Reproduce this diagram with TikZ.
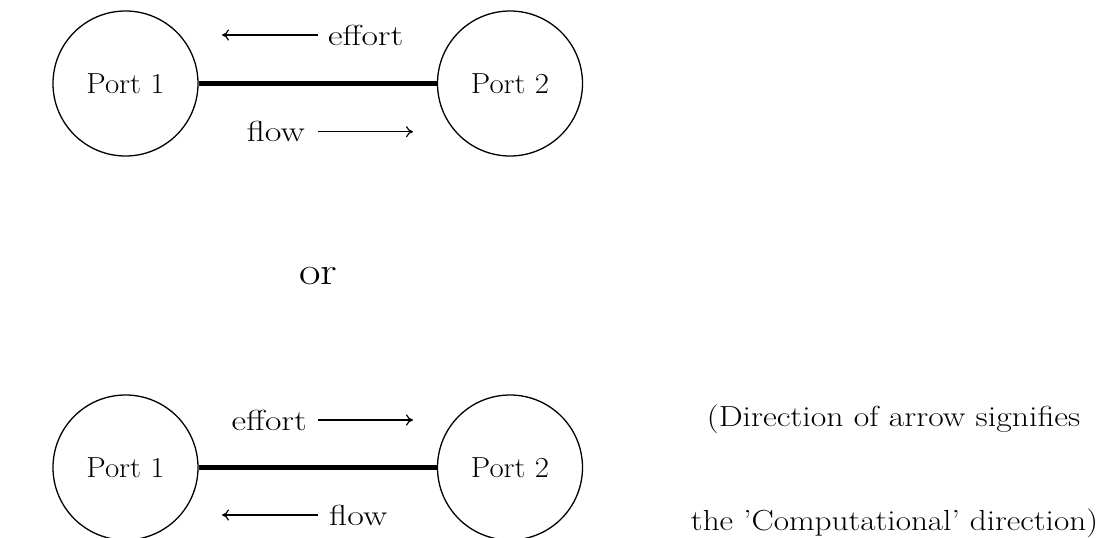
\documentclass[tikz,border=0pt]{standalone}
\usetikzlibrary{arrows.meta}
\newcommand{\sx}[2]{\scalebox{#1}[1]{#2}}
\begin{document}
\begin{tikzpicture}[x=1pt,y=-1pt,
  port/.style={draw,circle,line width=1.3pt,minimum size=145pt,inner sep=0pt,font=\fontsize{29}{33}\selectfont},
  lbl/.style={anchor=base west,inner sep=0pt,font=\fontsize{29}{33}\selectfont},
  bond/.style={line width=5pt},
  sig/.style={-{To[length=7pt,width=11pt]},line width=1.2pt}]
\useasboundingbox (0,0) rectangle (1101,538);
% top
\node[port] (a1) at (125.5,83.5) {\sx{1.065}{Port 1}};
\node[port] (a2) at (510,83.5) {\sx{1.065}{Port 2}};
\draw[bond] (a1) -- (a2);
\coordinate (ae1) at (318,35);
\coordinate (ae2) at (222,35);
\draw[sig] (ae1) -- (ae2);
\node[lbl] (aeff) at (328,45.7) {\sx{1.235}{effort}};
\coordinate (af1) at (318,131.7);
\coordinate (af2) at (413,131.7);
\draw[sig] (af1) -- (af2);
\node[lbl,anchor=base east] (aflow) at (305,141.7) {\sx{1.25}{flow}};
% or
\node[lbl,font=\fontsize{39}{45}\selectfont] (or) at (299,284) {\sx{1.2}{or}};
% bottom
\node[port] (b1) at (125.5,467.5) {\sx{1.065}{Port 1}};
\node[port] (b2) at (510,467.5) {\sx{1.065}{Port 2}};
\draw[bond] (b1) -- (b2);
\coordinate (be1) at (318,420);
\coordinate (be2) at (413,420);
\draw[sig] (be1) -- (be2);
\node[lbl,anchor=base east] (beff) at (307,430) {\sx{1.235}{effort}};
\coordinate (bf1) at (318,515);
\coordinate (bf2) at (222,515);
\draw[sig] (bf1) -- (bf2);
\node[lbl] (bflow) at (329,525) {\sx{1.25}{flow}};
% note
\node[lbl,anchor=base] (n1) at (893.5,426.5) {\sx{1.165}{(Direction of arrow signifies}};
\node[lbl,anchor=base] (n2) at (894.5,530) {\sx{1.146}{the 'Computational' direction)}};
\end{tikzpicture}
\end{document}
